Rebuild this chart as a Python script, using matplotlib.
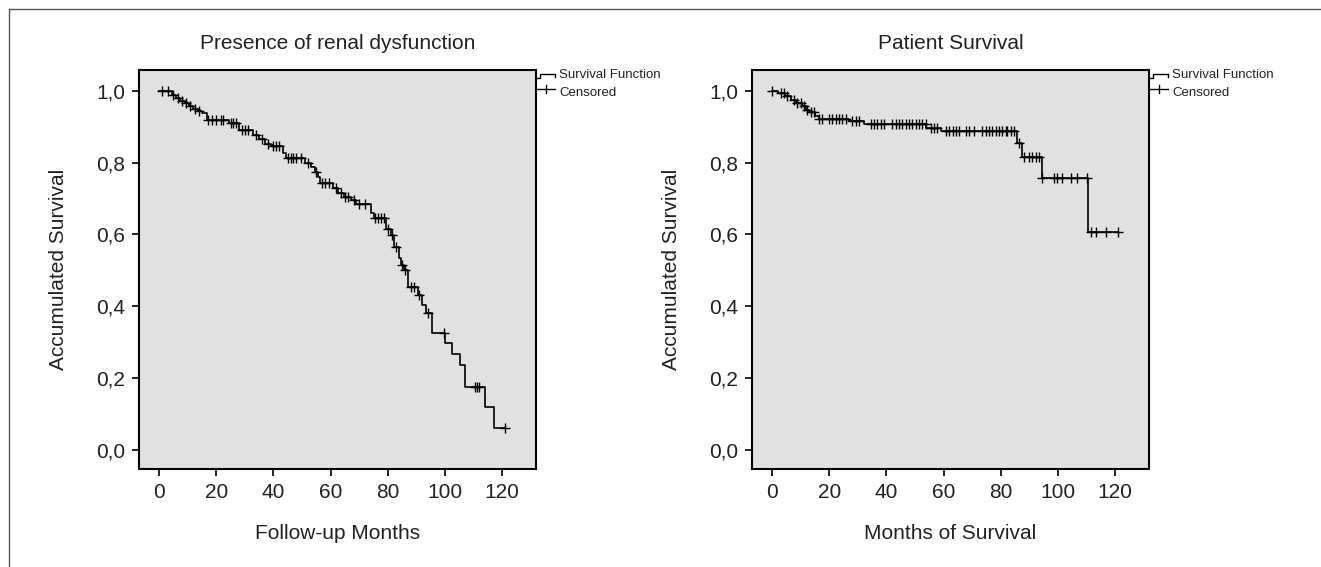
import numpy as np
import matplotlib.pyplot as plt
from matplotlib.lines import Line2D
from matplotlib.ticker import FuncFormatter

plt.rcParams['font.family'] = ['Liberation Sans', 'DejaVu Sans']

# Presence of renal dysfunction: event times (months) and survival after each drop
t_renal = [0, 4.4, 6, 7.5, 9, 10.5, 12, 13.5, 15, 16.7, 24.5, 28, 33, 35, 37, 39,
           43.5, 44.5, 51, 53, 54.5, 55.5, 56.3, 61, 62.6, 64.5, 67, 69, 74, 75,
           79.5, 81, 82, 84, 84.5, 85.5, 87, 90.6, 92, 93.5, 95.3, 100, 102.6,
           105.3, 107, 114, 117]
s_renal = [1.0, 0.989, 0.980, 0.972, 0.965, 0.958, 0.950, 0.944, 0.938, 0.920,
           0.910, 0.891, 0.878, 0.866, 0.852, 0.845, 0.828, 0.812, 0.800, 0.789,
           0.775, 0.761, 0.743, 0.729, 0.716, 0.705, 0.696, 0.685, 0.659, 0.645,
           0.616, 0.599, 0.566, 0.535, 0.515, 0.501, 0.455, 0.432, 0.404, 0.381,
           0.327, 0.297, 0.267, 0.237, 0.176, 0.121, 0.060]
c_renal = [1, 3, 5, 6.5, 8, 9.5, 11, 12.5, 14, 17, 18.5, 20, 21.5, 22.5, 25, 26, 27,
           29, 30, 31, 34, 36, 38, 40, 41, 42, 45, 46, 47, 48, 49.5, 52, 55, 57,
           58, 59.5, 62, 63.5, 65, 66, 68, 70, 72, 75.5, 76.5, 77.5, 78.5, 80,
           81.5, 83, 85, 86, 88, 89, 91, 94, 99.5, 110.5, 111.3, 112, 121]

# Patient survival
t_pat = [0, 2, 4.5, 6.5, 8.5, 10.5, 12, 13, 15, 16.4, 27, 32, 53.8, 59, 85.8,
         87.5, 94.5, 110.6]
s_pat = [1.0, 0.995, 0.985, 0.975, 0.966, 0.958, 0.948, 0.940, 0.930, 0.921,
         0.915, 0.908, 0.896, 0.887, 0.856, 0.817, 0.758, 0.608]
c_pat = [0.1, 3.0, 4.2, 5.4, 7.7, 8.9, 10.0, 11.2, 12.4, 13.5, 14.7, 16.4, 17.6,
         19.9, 21.1, 22.3, 23.4, 24.6, 25.8, 28.1, 29.3, 30.4, 34.5, 35.7, 36.8,
         38.0, 39.2, 42.1, 43.2, 44.4, 45.6, 46.7, 47.9, 49.1, 50.2, 51.4, 52.6,
         53.7, 55.5, 56.6, 57.8, 60.7, 61.9, 63.1, 64.2, 65.4, 67.7, 68.9, 70.6,
         73.5, 74.7, 75.9, 77.0, 78.2, 79.4, 80.5, 81.7, 82.3, 83.5, 84.6, 86.4,
         88.1, 89.9, 91.0, 92.2, 93.4, 94.5, 98.6, 99.8, 101.5, 104.5, 106.8,
         110.0, 111.4, 113.2, 116.7, 120.8]

W, H = 1321, 567
fig = plt.figure(figsize=(W / 100, H / 100), dpi=100)


def px(x, y):
    return x / W, 1 - y / H


def km(ax, t, s, cens, title, xlabel):
    t = np.array(t)
    s = np.array(s)
    tmax = max(cens)
    ax.step(list(t) + [tmax], list(s) + [s[-1]], where='post', color='black', lw=1.2)
    idx = np.searchsorted(t, cens, side='right') - 1
    ax.plot(cens, s[idx], '+', color='black', ms=6.5, mew=1.0)
    ax.set_facecolor('#e1e1e1')
    ax.set_xlim(-7.0, 131.8)
    ax.set_ylim(-0.053, 1.058)
    ax.set_xticks(np.arange(0, 121, 20))
    ax.set_yticks(np.arange(0, 1.01, 0.2))
    ax.yaxis.set_major_formatter(FuncFormatter(lambda v, p: f"{v:.1f}".replace('.', ',')))
    ax.tick_params(labelsize=15, length=5, width=1.4, pad=5, colors='#222222')
    for sp in ax.spines.values():
        sp.set_linewidth(1.5)
    ax.set_title(title, fontsize=15, pad=15, color='#222222')
    ax.set_xlabel(xlabel, fontsize=15, labelpad=16, color='#222222')
    ax.set_ylabel('Accumulated Survival', fontsize=15, labelpad=20, color='#222222')


ax1 = fig.add_axes([139 / W, (H - 469) / H, 397 / W, 399 / H])
ax2 = fig.add_axes([752 / W, (H - 469) / H, 397 / W, 399 / H])
km(ax1, t_renal, s_renal, c_renal, 'Presence of renal dysfunction', 'Follow-up Months')
km(ax2, t_pat, s_pat, c_pat, 'Patient Survival', 'Months of Survival')

# legend symbols drawn to the right of each panel
for off in (0, 613):
    xs = [536 + off, 540 + off, 540 + off, 555 + off, 555 + off]
    ys = [78, 78, 74, 74, 77]
    fig.add_artist(Line2D([px(x, 0)[0] for x in xs], [px(0, y)[1] for y in ys],
                          color='black', lw=1.0))
    fig.add_artist(Line2D([px(536 + off, 0)[0], px(555 + off, 0)[0]],
                          [px(0, 89)[1]] * 2, color='black', lw=1.0))
    fig.add_artist(Line2D([px(546 + off, 0)[0]] * 2, [px(0, 85)[1], px(0, 93)[1]],
                          color='black', lw=1.0))
    fig.text(*px(559 + off, 75), 'Survival Function', fontsize=9.5, va='center',
             color='#222222')
    fig.text(*px(559 + off, 93), 'Censored', fontsize=9.5, va='center', color='#222222')

# outer frame (top and left edges)
fig.add_artist(Line2D([px(9, 0)[0], 1], [px(0, 9)[1]] * 2, color='#555555', lw=1.0))
fig.add_artist(Line2D([px(9, 0)[0]] * 2, [0, px(0, 9)[1]], color='#555555', lw=1.0))

plt.savefig('out.png', dpi=100)
